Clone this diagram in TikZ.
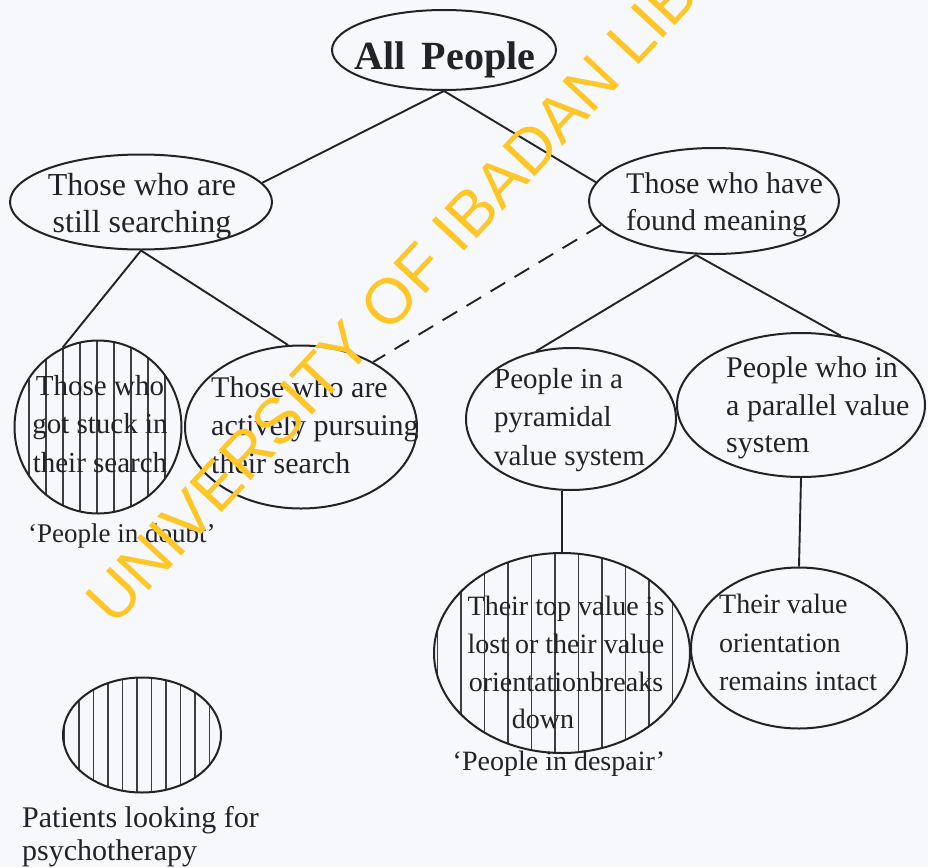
\documentclass[tikz,border=0pt]{standalone}
\usepackage{fontspec}
\setmainfont{Liberation Serif}
\newfontfamily\wmfont{Liberation Sans}
\usetikzlibrary{shapes.geometric}
\definecolor{ink}{RGB}{34,34,40}
\definecolor{hatchc}{RGB}{60,60,66}
\definecolor{paper}{RGB}{247,248,251}
\definecolor{wmcol}{RGB}{255,198,40}
\newcommand\fsz[2]{\fontsize{#1}{#2}\selectfont}
\tikzset{
  bub/.style={ellipse, draw=ink, line width=2pt, inner sep=0pt},
  lbl/.style={inner sep=0pt, text=ink},
  conn/.style={draw=ink, line width=1.9pt},
  dashconn/.style={conn, dash pattern=on 17pt off 11pt},
  hatch/.style 2 args={path picture={
    \foreach \k in {-14,...,14}{
      \draw[hatchc, line width=1.2pt]
        ([xshift={(#2)+(\k)*(#1)}]path picture bounding box.south) --
        ([xshift={(#2)+(\k)*(#1)}]path picture bounding box.north);
    }}},
  wmark/.style={inner sep=0pt, text=wmcol, font=\wmfont\fsz{64}{70}}
}
\begin{document}
\begin{tikzpicture}[x=1pt,y=-1pt]
\useasboundingbox (0,0) rectangle (928,867);
\fill[paper] (0,0) rectangle (928,867);

% ellipses
\node[bub, minimum width=224pt, minimum height=80pt] (ap) at (444,50) {};
\node[bub, minimum width=262pt, minimum height=95pt] (ss) at (141,202) {};
\node[bub, minimum width=250pt, minimum height=106pt] (fm) at (714,201) {};
\node[bub, minimum width=167pt, minimum height=173pt, hatch={17pt}{-1pt}] (st) at (98,427) {};
\node[bub, minimum width=232pt, minimum height=163pt] (ac) at (301,427) {};
\node[bub, minimum width=210pt, minimum height=142pt] (py) at (571,419) {};
\node[bub, minimum width=248pt, minimum height=144pt] (pa) at (801,405) {};
\node[bub, minimum width=256pt, minimum height=200pt, hatch={23.5pt}{-7pt}] (de) at (562,653) {};
\node[bub, minimum width=216pt, minimum height=161pt] (intact) at (799,648) {};
\node[bub, minimum width=158pt, minimum height=115pt, hatch={14.5pt}{-5pt}] (pat) at (142,735) {};

% texts
\node[lbl, anchor=base, font=\bfseries\fsz{40}{48}] (apt) at (445,70) {All\hspace{0.15em} People};
\node[lbl, anchor=north, align=center, font=\fsz{32}{37}] (sst) at (142,173) {Those who are\\still searching};
\node[lbl, anchor=north west, align=left, font=\fsz{30}{37}] (fmt) at (626,172.5) {Those who have\\found meaning};
\node[lbl, anchor=north, align=center, font=\fsz{29}{38.5}] (stt) at (100,375) {Those who\\got stuck in\\their search};
\node[lbl, anchor=north west, align=left, font=\fsz{30}{38}] (act) at (211,376.5) {Those who are\\actively pursuing\\their search};
\node[lbl, anchor=north west, align=left, font=\fsz{29}{38.5}] (pyt) at (494,368) {People in a\\pyramidal\\value system};
\node[lbl, anchor=north west, align=left, font=\fsz{30}{37.5}] (pat2) at (726,356.5) {People who in\\a parallel value\\system};
\node[lbl, anchor=north, align=center, font=\fsz{28}{37.7}] (det) at (566,596) {Their top value is\\lost or their value\\orientationbreaks\\down\hspace*{46pt}};
\node[lbl, anchor=north west, align=left, font=\fsz{28}{38.5}] (int) at (719,594) {Their value\\orientation\\remains intact};
\node[lbl, anchor=base west, font=\fsz{27}{32}] (doubt) at (28,542) {‘People in doubt’};
\node[lbl, anchor=base, font=\fsz{28}{32}] (despair) at (559,770) {‘People in despair’};
\node[lbl, anchor=north west, align=left, font=\fsz{30}{33}] (patt) at (22,806.5) {Patients looking for\\psychotherapy};

% connectors
\draw[conn] (ap.south) -- (ss.9);
\draw[conn] (ap.south) -- (fm.171);
\draw[conn] (ss.south) -- (st.114);
\draw[conn] (ss.south) -- (ac.99);
\draw[dashconn] (fm.192) -- (ac.42);
\coordinate (fmb) at ([xshift=-18pt]fm.south);
\draw[conn] (fmb) -- (py.117);
\draw[conn] (fmb) -- (pa.60);
\draw[conn] (py.south -| de.north) -- (de.north);
\draw[conn] (pa.south) -- (intact.north);

% watermark
\node[wmark, rotate=47, anchor=base west] (wm) at (114,628) {UNIVERSITY OF IBADAN LIBRARY};
\end{tikzpicture}
\end{document}
